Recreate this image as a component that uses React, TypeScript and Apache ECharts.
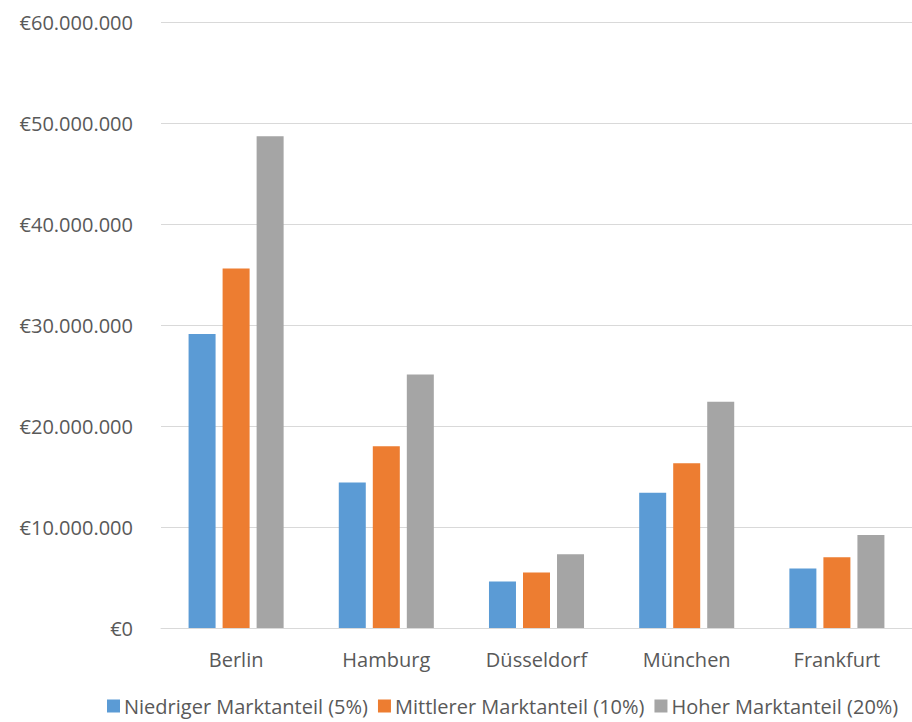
import React, { useEffect, useRef } from "react";
import * as echarts from "echarts";

const categories = ["Berlin", "Hamburg", "Düsseldorf", "München", "Frankfurt"];
const seriesNames = [
  "Niedriger Marktanteil (5%)",
  "Mittlerer Marktanteil (10%)",
  "Hoher Marktanteil (20%)",
];
const niedrig = [29100000, 14400000, 4600000, 13400000, 5900000];
const mittel = [35600000, 18000000, 5500000, 16300000, 7000000];
const hoch = [48700000, 25100000, 7300000, 22400000, 9200000];
const colors = ["#5B9BD5", "#ED7D31", "#A5A5A5"];

const fmt = (v: number) =>
  "€" + String(Math.round(v)).replace(/\B(?=(\d{3})+(?!\d))/g, ".");

export default function App() {
  const ref = useRef<HTMLDivElement>(null);
  useEffect(() => {
    if (!ref.current) return;
    const chart = echarts.init(ref.current, undefined, { renderer: "svg" });
    const font = "'Open Sans', sans-serif";
    const data = [niedrig, mittel, hoch];
    chart.setOption({
      animation: false,
      textStyle: { fontFamily: font },
      grid: { left: 161, right: -13, top: 22, bottom: 94, containLabel: false },
      legend: {
        bottom: 1,
        left: 102,
        itemWidth: 13,
        itemHeight: 13,
        itemGap: 10,
        icon: "rect",
        textStyle: { color: "#595959", fontSize: 20, fontFamily: font, padding: [0, 0, 0, -1] },
        data: seriesNames,
      },
      xAxis: {
        type: "category",
        data: categories,
        axisLine: { lineStyle: { color: "#D9D9D9", width: 1 } },
        axisTick: { show: false },
        axisLabel: { color: "#595959", fontSize: 20, margin: 21, fontFamily: font },
      },
      yAxis: {
        type: "value",
        min: 0,
        max: 60000000,
        interval: 10000000,
        axisLine: { show: false },
        axisTick: { show: false },
        splitLine: { lineStyle: { color: "#D9D9D9", width: 1 } },
        axisLabel: {
          color: "#595959",
          fontSize: 20,
          margin: 28,
          fontFamily: font,
          formatter: (v: number) => fmt(v),
        },
      },
      series: seriesNames.map((name, i) => ({
        name,
        type: "bar",
        data: data[i],
        barWidth: 27,
        barGap: "26%",
        itemStyle: { color: colors[i] },
      })),
    });
    return () => chart.dispose();
  }, []);
  return <div ref={ref} style={{ width: 912, height: 722, position: "absolute", left: 0, top: 0 }} />;
}
